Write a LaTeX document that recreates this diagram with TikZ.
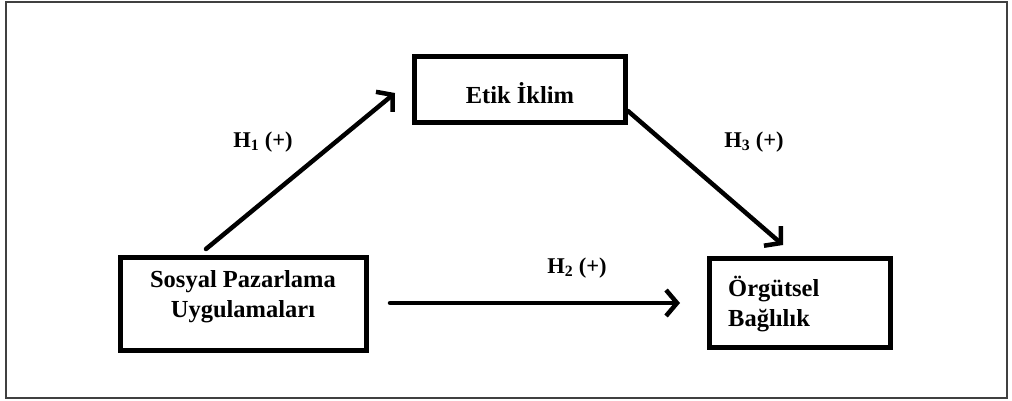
\documentclass[tikz,border=0pt]{standalone}
\usepackage{fontspec}
\setmainfont{Liberation Serif}
\usetikzlibrary{arrows.meta}
\begin{document}
\begin{tikzpicture}[x=1pt,y=-1pt,
  boxstyle/.style={draw=black, line width=5pt, rectangle, inner sep=0pt, fill=white},
  boxtext/.style={font=\fontsize{24.5}{30}\selectfont\bfseries, align=center, inner sep=0pt},
  hyplabel/.style={font=\fontsize{22.5}{26}\selectfont\bfseries, inner sep=0pt},
  conn/.style={line width=4.5pt, line cap=round, -{Straight Barb[length=11pt,width=26pt,line width=4.5pt]}}]
\useasboundingbox (0,0) rectangle (1012,401);
\draw[draw=black!75, line width=2pt] (6,2) rectangle (1007,398);
% boxes
\node[boxstyle, minimum width=211pt, minimum height=66pt] (etik) at (519.5,90) {};
\node[boxtext] (etiktext) at (520,93) {Etik İklim};
\node[boxstyle, minimum width=246pt, minimum height=93pt] (sosyal) at (243,303.5) {};
\node[boxtext] (sosyaltext) at (243,297) {Sosyal Pazarlama\\Uygulamaları};
\node[boxstyle, minimum width=181pt, minimum height=89pt] (org) at (799.5,302.5) {};
\node[boxtext, align=left, anchor=west] (orgtext) at (728,304) {Örgütsel\\Bağlılık};
% connectors
\coordinate (h1s) at (206,249);
\coordinate (h1e) at (395,93);
\coordinate (h3s) at (628,111);
\coordinate (h3e) at (783,245);
\coordinate (h2s) at (390,303);
\coordinate (h2e) at (680,303);
\draw[conn] (h1s) -- (h1e);
\draw[conn] (h3s) -- (h3e);
\draw[conn] (h2s) -- (h2e);
% labels
\node[hyplabel] (h1) at (263,142) {H\textsubscript{1} (+)};
\node[hyplabel] (h3) at (754,142) {H\textsubscript{3} (+)};
\node[hyplabel] (h2) at (577,268) {H\textsubscript{2} (+)};
\end{tikzpicture}
\end{document}
